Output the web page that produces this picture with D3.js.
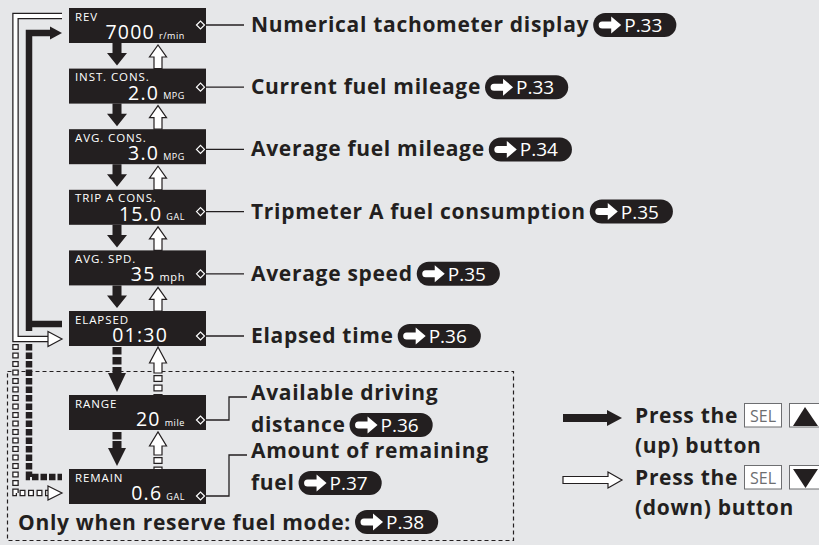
<!DOCTYPE html>
<html>
<head>
<meta charset="utf-8">
<script src="https://cdn.jsdelivr.net/npm/d3@7"></script>
<style>
  html, body { margin: 0; padding: 0; background: #e6e7e9; }
  svg { display: block; font-family: "Open Sans", "Noto Sans", sans-serif; }
</style>
</head>
<body>
<svg width="819" height="545"></svg>
<script>
const svg = d3.select("svg");

// DATA
const displayLabels = ["REV", "INST. CONS.", "AVG. CONS.", "TRIP A CONS.", "AVG. SPD.", "ELAPSED", "RANGE", "REMAIN"];
const displayValues = ["7000", "2.0", "3.0", "15.0", "35", "01:30", "20", "0.6"];
const displayUnits = ["r/min", "MPG", "MPG", "GAL", "mph", "", "mile", "GAL"];
const descriptions = [
  ["Numerical tachometer display"],
  ["Current fuel mileage"],
  ["Average fuel mileage"],
  ["Tripmeter A fuel consumption"],
  ["Average speed"],
  ["Elapsed time"],
  ["Available driving", "distance"],
  ["Amount of remaining", "fuel"]
];
const pageRefs = ["P.33", "P.33", "P.34", "P.35", "P.35", "P.36", "P.36", "P.37"];
const reserveOnly = [false, false, false, false, false, false, true, true];
const reserveNote = "Only when reserve fuel mode:";
const reservePage = "P.38";
const legendLines = [["Press the", "(up) button"], ["Press the", "(down) button"]];
const legendKey = "SEL";

// CONSTANTS
const ink = "#231f20";
const boxX = 69, boxW = 137, boxH = 35;
const downX = 117, upX = 158;
const labelX = 249;
const boldSize = 21, boldSpacing = 0.7;

// SCALES (normal items evenly spaced, reserve items in their own band)
const boxTop = d3.scaleLinear().domain([0, 5]).range([8, 311]);
const leaderY = d3.scaleLinear().domain([0, 5]).range([25, 336]);
const reserveTop = d3.scaleLinear().domain([6, 7]).range([395, 469]);
const reserveLeader = d3.scaleLinear().domain([6, 7]).range([420, 496]);
const reserveText = d3.scaleLinear().domain([6, 7]).range([400, 458]);

const topOf = i => (reserveOnly[i] ? reserveTop(i) : boxTop(i));
const leaderOf = i => (reserveOnly[i] ? reserveLeader(i) : leaderY(i));

const idx = d3.range(displayLabels.length);

// dashed frame for reserve mode
svg.append("rect")
  .attr("x", 7.5).attr("y", 371.5)
  .attr("width", 506).attr("height", 169)
  .attr("fill", "none")
  .attr("stroke", ink)
  .attr("stroke-width", 1.2)
  .attr("stroke-dasharray", "4,3");

// ---------- loop lines on the left ----------
const loops = svg.append("g");

// black (up button): ELAPSED -> REV
loops.append("path")
  .attr("d", `M62,${leaderY(5) - 12} H29 M29,331 V33 H52`)
  .attr("fill", "none").attr("stroke", ink).attr("stroke-width", 6.5);
loops.append("path")
  .attr("d", "M50,26.5 L62,33 L50,39.5 Z").attr("fill", ink);

// black dashed: REMAIN -> joins
loops.append("path")
  .attr("d", "M29,344 V477 H62")
  .attr("fill", "none").attr("stroke", ink).attr("stroke-width", 6.5)
  .attr("stroke-dasharray", "6.5,2");

// white (down button): REV -> ELAPSED
const whitePath = "M62,16 H15.5 V339 H50";
loops.append("path").attr("d", whitePath)
  .attr("fill", "none").attr("stroke", ink).attr("stroke-width", 6.5);
loops.append("path").attr("d", whitePath)
  .attr("fill", "none").attr("stroke", "#fff").attr("stroke-width", 4);
loops.append("path")
  .attr("d", "M48,331.5 L62,339 L48,346.5 Z")
  .attr("fill", "#fff").attr("stroke", ink).attr("stroke-width", 1.2);

// white dashed: -> REMAIN
const whiteDash = "M15.5,344 V493 H50";
loops.append("path").attr("d", whiteDash)
  .attr("fill", "none").attr("stroke", ink).attr("stroke-width", 6.5)
  .attr("stroke-dasharray", "6,2.5");
loops.append("path").attr("d", whiteDash)
  .attr("fill", "none").attr("stroke", "#fff").attr("stroke-width", 4)
  .attr("stroke-dasharray", "0,1.25,3.5,3.75");
loops.append("path")
  .attr("d", "M48,486 L62,493 L48,500 Z")
  .attr("fill", "#fff").attr("stroke", ink).attr("stroke-width", 1.2);

// ---------- arrows between the displays ----------
const arrows = svg.append("g");

function downArrow(x, y0, y1, headLen, headHalf, dashTo) {
  const sh = 4.5;
  const start = dashTo || y0;
  if (dashTo) {
    arrows.append("line")
      .attr("x1", x).attr("x2", x).attr("y1", y0).attr("y2", dashTo)
      .attr("stroke", ink).attr("stroke-width", sh * 2)
      .attr("stroke-dasharray", "7.5,2.5");
  }
  arrows.append("path")
    .attr("d", `M${x - sh},${start} V${y1 - headLen} H${x - headHalf} L${x},${y1} L${x + headHalf},${y1 - headLen} H${x + sh} V${start} Z`)
    .attr("fill", ink);
}

function upArrow(x, y0, y1, headLen, headHalf, dashFrom) {
  // y0 = bottom, y1 = tip
  const sh = 4;
  const end = dashFrom || y0;
  arrows.append("path")
    .attr("d", `M${x - sh},${end} V${y1 + headLen} H${x - headHalf} L${x},${y1} L${x + headHalf},${y1 + headLen} H${x + sh} V${end} Z`)
    .attr("fill", "#fff").attr("stroke", ink).attr("stroke-width", 1.2);
  if (dashFrom) {
    arrows.append("line")
      .attr("x1", x).attr("x2", x).attr("y1", dashFrom + 2).attr("y2", y0)
      .attr("stroke", ink).attr("stroke-width", sh * 2 + 1.2)
      .attr("stroke-dasharray", "7,2.5");
    arrows.append("line")
      .attr("x1", x).attr("x2", x).attr("y1", dashFrom + 2).attr("y2", y0)
      .attr("stroke", "#fff").attr("stroke-width", sh * 2 - 1.2)
      .attr("stroke-dasharray", "0,1.2,4.6,3.7");
  }
}

idx.slice(0, -1).forEach(i => {
  const bottom = topOf(i) + boxH;
  const next = topOf(i + 1);
  if (i < 5) {
    downArrow(downX, bottom, next - 3, 12.5, 10);
    upArrow(upX, next, bottom + 2, 12, 8.5);
  } else if (i === 5) {
    downArrow(downX, bottom + 1, next - 3, 19, 9, next - 22);
    upArrow(upX, next, bottom + 1, 16, 8.5, bottom + 27);
  } else {
    downArrow(downX, bottom + 2, next - 3, 18, 9, bottom + 11);
    upArrow(upX, next, bottom + 2, 14, 8.5, bottom + 25);
  }
});

// ---------- display boxes ----------
const boxes = svg.append("g").selectAll("g").data(idx).join("g")
  .attr("transform", i => `translate(${boxX},${topOf(i)})`);

boxes.append("rect")
  .attr("width", boxW).attr("height", boxH).attr("fill", ink);

boxes.append("text")
  .attr("x", 6).attr("y", 12.5)
  .attr("fill", "#fff").attr("font-size", 11.5).attr("letter-spacing", 0.9)
  .text(i => displayLabels[i]);

boxes.each(function(i) {
  const g = d3.select(this);
  let valueEnd = 99;
  if (displayUnits[i]) {
    const u = g.append("text")
      .attr("x", 116).attr("y", 30.5)
      .attr("text-anchor", "end")
      .attr("fill", "#fff").attr("font-size", displayUnits[i] === "mph" ? 11 : 9)
      .attr("letter-spacing", 0.6)
      .text(displayUnits[i]);
    valueEnd = 116 - u.node().getComputedTextLength() - 4;
  }
  g.append("text")
    .attr("x", valueEnd).attr("y", 31)
    .attr("text-anchor", "end")
    .attr("fill", "#fff").attr("font-size", 19.5).attr("letter-spacing", 1.2)
    .text(displayValues[i]);
});

// diamonds
boxes.append("path")
  .attr("d", i => {
    const y = leaderOf(i) - topOf(i);
    return `M196.5,${y} L200.5,${y - 4} L204.5,${y} L200.5,${y + 4} Z`;
  })
  .attr("transform", `translate(${-boxX},0)`)
  .attr("fill", ink).attr("stroke", "#fff").attr("stroke-width", 1.2);

// ---------- page badges ----------
function badge(parent, x, yc, page) {
  const g = parent.append("g").attr("transform", `translate(${x},${yc})`);
  const rect = g.append("rect").attr("y", -12).attr("height", 24).attr("rx", 12).attr("fill", ink);
  g.append("path")
    .attr("d", "M9,-3.5 H18 V-8.5 L28,0 L18,8.5 V3.5 H9 A3.5,3.5 0 0 1 9,-3.5 Z")
    .attr("fill", "#fff");
  const t = g.append("text")
    .attr("x", 31).attr("y", 7)
    .attr("fill", "#fff").attr("font-size", 19)
    .text(page);
  rect.attr("width", 31 + t.node().getComputedTextLength() + 14);
}

// ---------- descriptions ----------
const desc = svg.append("g")
  .attr("fill", ink).attr("font-weight", 700)
  .attr("font-size", boldSize).attr("letter-spacing", boldSpacing);

idx.forEach(i => {
  const ly = leaderOf(i);
  let lines;
  if (!reserveOnly[i]) {
    desc.append("path")
      .attr("d", `M205,${ly} H244`)
      .attr("fill", "none").attr("stroke", ink).attr("stroke-width", 1.3);
    lines = descriptions[i].map((s, k) => ({ s, y: ly + 7 + k * 32 }));
  } else {
    const ty = reserveText(i);
    desc.append("path")
      .attr("d", `M205,${ly} H229 V${ty - 3} H247`)
      .attr("fill", "none").attr("stroke", ink).attr("stroke-width", 1.3);
    lines = descriptions[i].map((s, k) => ({ s, y: ty + k * 32 }));
  }
  let last;
  lines.forEach(l => {
    last = desc.append("text").attr("x", labelX + 2).attr("y", l.y).text(l.s);
    last.datum(l);
  });
  const w = last.node().getComputedTextLength();
  badge(svg, labelX + 2 + w + 4, last.datum().y - 7, pageRefs[i]);
});

// reserve note
const note = desc.append("text").attr("x", 18).attr("y", 530).text(reserveNote);
badge(svg, 18 + note.node().getComputedTextLength() + 4, 522, reservePage);

// ---------- legend ----------
const legend = svg.append("g");
const legendY = d3.scalePoint().domain([0, 1]).range([418, 480]);

// black arrow
legend.append("path")
  .attr("d", `M563,${legendY(0) - 4} H607 V${legendY(0) - 8} L622,${legendY(0)} L607,${legendY(0) + 8} V${legendY(0) + 4} H563 Z`)
  .attr("fill", ink);
// white arrow
legend.append("path")
  .attr("d", `M563,${legendY(1) - 3.5} H608 V${legendY(1) - 8} L622,${legendY(1)} L608,${legendY(1) + 8} V${legendY(1) + 3.5} H563 Z`)
  .attr("fill", "#fff").attr("stroke", ink).attr("stroke-width", 1.2);

legendLines.forEach((pair, k) => {
  const y = legendY(k);
  [pair[0], pair[1]].forEach((s, j) => {
    legend.append("text")
      .attr("x", 635).attr("y", y + 5 + j * 30)
      .attr("fill", ink).attr("font-weight", 700)
      .attr("font-size", boldSize).attr("letter-spacing", boldSpacing)
      .text(s);
  });
  // SEL key
  legend.append("rect")
    .attr("x", 744.5).attr("y", y - 14.5).attr("width", 37).attr("height", 23.5)
    .attr("fill", "#fff").attr("stroke", "#6d6e71").attr("stroke-width", 1);
  legend.append("text")
    .attr("x", 763).attr("y", y + 3.5).attr("text-anchor", "middle")
    .attr("fill", "#6d6e71").attr("font-size", 16)
    .text(legendKey);
  // arrow key
  legend.append("rect")
    .attr("x", 789.5).attr("y", y - 14.5).attr("width", 34).attr("height", 23.5)
    .attr("fill", "#fff").attr("stroke", "#6d6e71").attr("stroke-width", 1);
  legend.append("path")
    .attr("d", k === 0
      ? `M793,${y + 8} L805,${y - 11} L818,${y + 8} Z`
      : `M793,${y - 11} L818,${y - 11} L805.5,${y + 8} Z`)
    .attr("fill", ink);
});
</script>
</body>
</html>
